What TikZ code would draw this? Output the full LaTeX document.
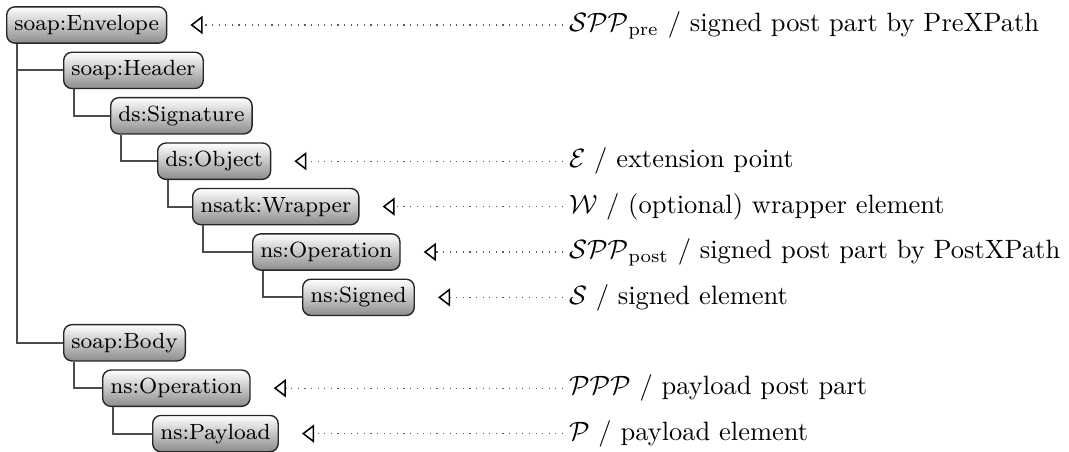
\documentclass[tikz,border=0pt]{standalone}
\usepackage{graphicx}
\usetikzlibrary{arrows.meta}
\newcommand{\rolelabel}[1]{\scalebox{0.963}{#1}}
\begin{document}
\begin{tikzpicture}[x=0.3636pt,y=-0.3636pt,
  elem/.style={draw=black!85, line width=0.5pt, rounded corners=3pt,
    top color=white, bottom color=black!45, font=\footnotesize,
    inner xsep=2.8pt, inner ysep=3pt, text height=5.6pt, text depth=1.6pt,
    anchor=west},
  branch/.style={draw=black!70, line width=0.7pt},
  role/.style={anchor=west, inner sep=2pt},
  pointer/.style={draw=black!65, dotted, line width=0.4pt,
    -{Triangle[open, length=4.4pt, width=6.6pt, color=black, line width=0.55pt]}}
]
\useasboundingbox (0,0) rectangle (1069,452);

% message elements
\node[elem] (env)  at (6,25)     {soap:Envelope};
\node[elem] (hdr)  at (63,70.4)  {soap:Header};
\node[elem] (sig)  at (110,115.8) {ds:Signature};
\node[elem] (obj)  at (157,161.2) {ds:Object};
\node[elem] (wrap) at (192,206.6) {nsatk:Wrapper};
\node[elem] (sop)  at (252,252)   {ns:Operation};
\node[elem] (sgd)  at (302,297.4) {ns:Signed};
\node[elem] (body) at (63,342.8)  {soap:Body};
\node[elem] (pop)  at (102,388.2) {ns:Operation};
\node[elem] (pay)  at (152,433.6) {ns:Payload};

% parent-child branches
\draw[branch] ([xshift=4pt]env.south west)  |- (hdr.west);
\draw[branch] ([xshift=4pt]env.south west)  |- (body.west);
\draw[branch] ([xshift=4pt]hdr.south west)  |- (sig.west);
\draw[branch] ([xshift=4pt]sig.south west)  |- (obj.west);
\draw[branch] ([xshift=4pt]obj.south west)  |- (wrap.west);
\draw[branch] ([xshift=4pt]wrap.south west) |- (sop.west);
\draw[branch] ([xshift=4pt]sop.south west)  |- (sgd.west);
\draw[branch] ([xshift=4pt]body.south west) |- (pop.west);
\draw[branch] ([xshift=4pt]pop.south west)  |- (pay.west);

% roles of the elements
\node[role] (lpre)  at (563,25)    {\rolelabel{$\mathcal{SPP}_{\mathrm{pre}}$ / signed post part by PreXPath}};
\node[role] (lext)  at (563,161.2) {\rolelabel{$\mathcal{E}$ / extension point}};
\node[role] (lwrap) at (563,206.6) {\rolelabel{$\mathcal{W}$ / (optional) wrapper element}};
\node[role] (lpost) at (563,252)   {\rolelabel{$\mathcal{SPP}_{\mathrm{post}}$ / signed post part by PostXPath}};
\node[role] (lsgd)  at (563,297.4) {\rolelabel{$\mathcal{S}$ / signed element}};
\node[role] (lppp)  at (563,388.2) {\rolelabel{$\mathcal{PPP}$ / payload post part}};
\node[role] (lpay)  at (563,433.6) {\rolelabel{$\mathcal{P}$ / payload element}};

\draw[pointer] (lpre.west)  -- ([xshift=8.4pt]env.east);
\draw[pointer] (lext.west)  -- ([xshift=8.4pt]obj.east);
\draw[pointer] (lwrap.west) -- ([xshift=8.4pt]wrap.east);
\draw[pointer] (lpost.west) -- ([xshift=8.4pt]sop.east);
\draw[pointer] (lsgd.west)  -- ([xshift=8.4pt]sgd.east);
\draw[pointer] (lppp.west)  -- ([xshift=8.4pt]pop.east);
\draw[pointer] (lpay.west)  -- ([xshift=8.4pt]pay.east);
\end{tikzpicture}
\end{document}
